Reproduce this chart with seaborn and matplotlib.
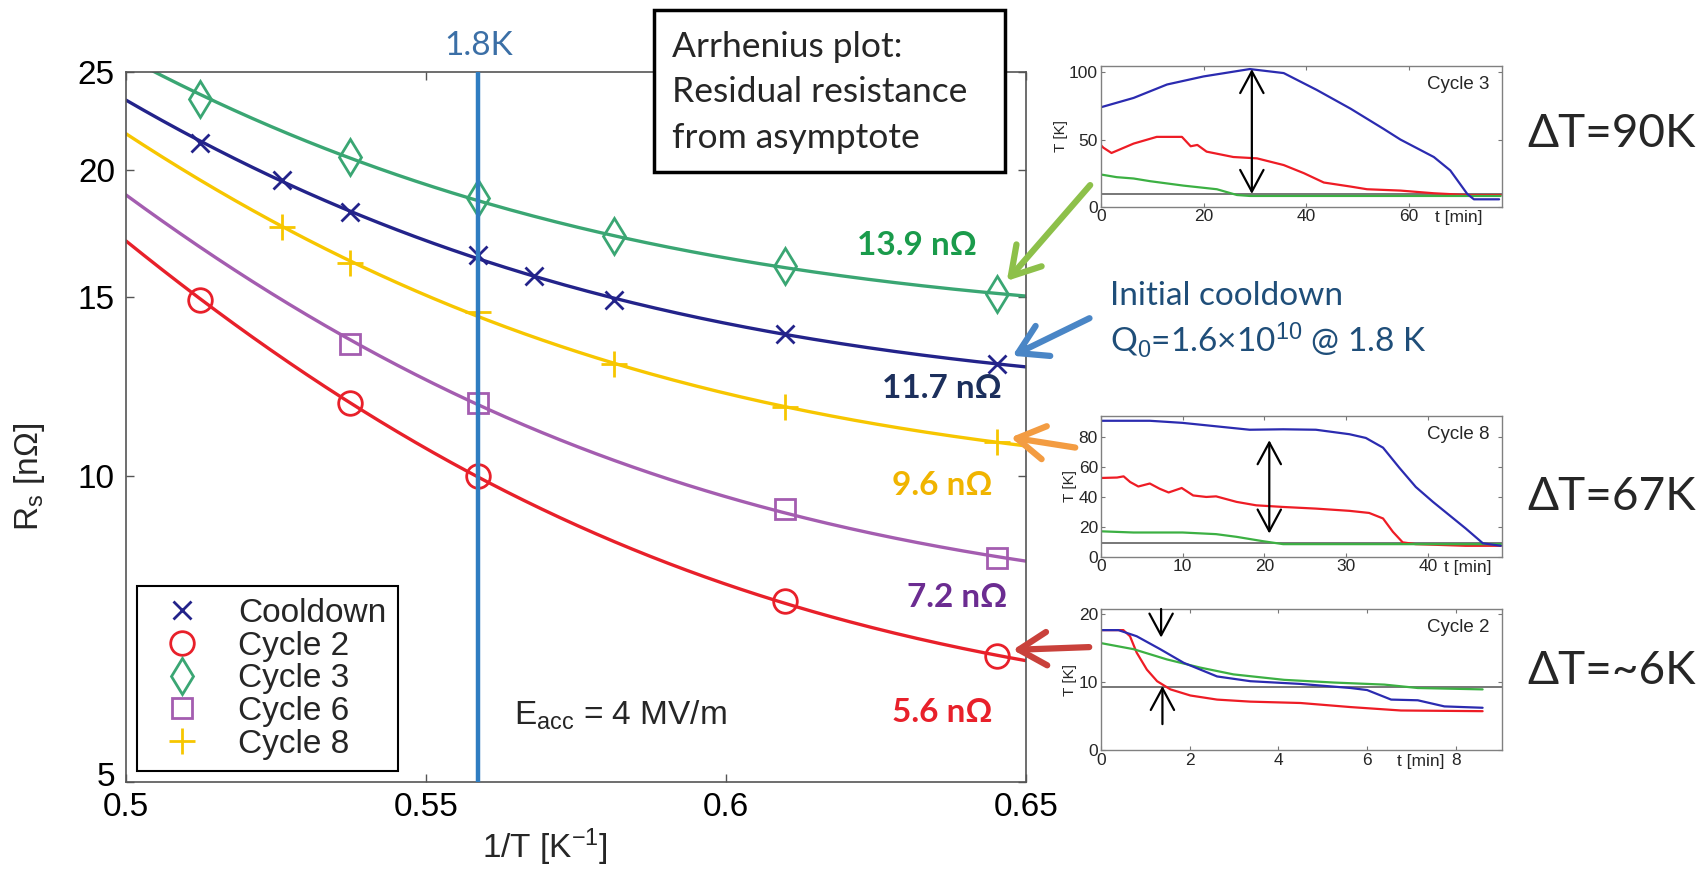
import numpy as np
import matplotlib
matplotlib.use("Agg")
import matplotlib.pyplot as plt
import matplotlib.transforms as mtransforms
import seaborn as sns
from matplotlib.patches import FancyArrowPatch, Rectangle
from matplotlib.ticker import NullLocator

W, H = 1708, 873

# ---- main Arrhenius plot: 1/T [1/K] vs Rs [nOhm] ----
cool_x = [0.5124, 0.5260, 0.5373, 0.5586, 0.5680, 0.5813, 0.6099, 0.6451]
cool_r = [21.3, 19.55, 18.2, 16.5, 15.75, 14.9, 13.8, 12.9]
c2_x = [0.5124, 0.5373, 0.5586, 0.6099, 0.6451]
c2_r = [14.9, 11.8, 10.0, 7.53, 6.65]
c3_x = [0.5124, 0.5373, 0.5586, 0.5813, 0.6099, 0.6451]
c3_r = [23.5, 20.6, 18.8, 17.25, 16.1, 15.1]
c6_x = [0.5373, 0.5586, 0.6099, 0.6451]
c6_r = [13.5, 11.8, 9.29, 8.3]
c8_x = [0.5260, 0.5373, 0.5586, 0.5813, 0.6099, 0.6451]
c8_r = [17.6, 16.2, 14.5, 12.9, 11.7, 10.8]
series_names = ["Cooldown", "Cycle 2", "Cycle 3", "Cycle 6", "Cycle 8"]
residuals = ["11.7", "5.6", "13.9", "7.2", "9.6"]   # nOhm, from asymptote
x_18k = 0.5587

# ---- inset temperature traces, t [min] and T [K] ----
# cycle 3
i3_blue_t = [0, 6.4, 12.9, 20, 29, 35.6, 42, 48.6, 55, 58.3, 64.8, 68, 71.3, 72.6, 77.5]
i3_blue_T = [74, 81, 91, 97, 102.5, 99.5, 87, 73, 58, 50, 37, 27, 9.5, 5.5, 5.5]
i3_red_t = [0, 0.5, 2.1, 6.4, 10.9, 15.8, 17.5, 18.8, 20.6, 25.8, 30.4, 35.6, 39.5, 43.4,
            48.6, 51.8, 58.3, 64.8, 71.3, 77.8]
i3_red_T = [46, 44, 40, 47, 52, 52, 45, 46, 41, 37, 36, 31, 25, 18, 15, 13, 12, 10, 8.7, 8.7]
i3_green_t = [0, 3.1, 6.4, 9.6, 16.1, 22.6, 26.5, 29, 77.8]
i3_green_T = [24, 22, 21, 19, 15.7, 13, 8.7, 8, 8]
# cycle 8
i8_blue_t = [0, 6, 10, 14.1, 18.2, 22.3, 26.3, 30.4, 32.4, 34.5, 36.5, 38.5, 40.6, 42.6,
             44.6, 46.7, 48.9]
i8_blue_T = [91, 91, 89.6, 87.3, 85, 85.3, 85, 82, 79.5, 73, 59.5, 46.7, 36.7, 27.8, 18.9, 9, 7.3]
i8_red_t = [0, 2, 2.8, 3.6, 4.6, 6, 7.2, 8.3, 9.9, 11.3, 12.9, 14.1, 16.6, 19, 22.3, 26.3,
            30.4, 32.8, 34.5, 35.7, 36.9, 38.5, 44.6, 48.9]
i8_red_T = [52.7, 53, 53.8, 50, 47, 49, 45.5, 43, 46, 41, 40, 40.4, 36.7, 34.4, 33.3, 32.2,
            30.7, 29.3, 25.6, 16.7, 9.6, 8.4, 7.3, 7.3]
i8_green_t = [0, 4, 10, 14.1, 16.6, 19.8, 22.3, 48.9]
i8_green_T = [17, 16.2, 16.2, 15.1, 13.3, 10.4, 8.4, 8.4]
# cycle 2
i2_red_t = [0, 0.51, 0.66, 0.81, 1.04, 1.27, 1.57, 2.02, 2.62, 3.37, 4.5, 5.63, 6.76, 8.6]
i2_red_T = [17.6, 17.6, 16.7, 14.3, 11.8, 10.1, 8.9, 8.0, 7.4, 7.1, 6.9, 6.3, 5.8, 5.7]
i2_blue_t = [0, 0.4, 0.81, 1.34, 1.87, 2.62, 3.37, 4.5, 5.63, 6.0, 6.54, 7.14, 7.74, 8.6]
i2_blue_T = [17.6, 17.6, 16.7, 14.8, 12.8, 10.8, 10.1, 9.7, 9.1, 8.8, 7.4, 7.3, 6.4, 6.2]
i2_green_t = [0, 0.74, 1.49, 2.24, 2.99, 4.13, 5.26, 6.39, 7.14, 8.6]
i2_green_T = [15.7, 14.8, 13.3, 12.1, 11.1, 10.3, 9.9, 9.6, 9.1, 8.9]
t_c = 9.2
delta_T = ["ΔT=90K", "ΔT=67K", "ΔT=~6K"]

sns.set_theme(style="ticks")
plt.rcParams["font.family"] = ["Liberation Sans", "DejaVu Sans"]
plt.rcParams["mathtext.fontset"] = "custom"
plt.rcParams["mathtext.rm"] = "Liberation Sans"
plt.rcParams["mathtext.it"] = "Liberation Sans:italic"
plt.rcParams["mathtext.bf"] = "Liberation Sans:bold"
plt.rcParams["mathtext.default"] = "rm"
LATO = ["Lato", "DejaVu Sans"]


def fx(px):
    return px / W


def fy(py):
    return 1 - py / H


def arrhenius_fit(xs, rs, r0):
    # Rs = R0 + A*exp(-k/T), fitted on log(Rs - R0)
    xs = np.asarray(xs)
    rs = np.asarray(rs)
    k, b = np.polyfit(xs, np.log(rs - r0), 1)
    grid = np.linspace(0.5, 0.65, 200)
    return grid, r0 + np.exp(b + k * grid)


fig = plt.figure(figsize=(W / 100, H / 100), dpi=100)
fig.patch.set_facecolor("white")

# main axes
ax = fig.add_axes([fx(126), fy(782), 900 / W, 710 / H])

colors = ["#23238a", "#e8202a", "#3aa673", "#a45db0", "#f7c600"]
markers = ["x", "o", "d", "s", "+"]
msizes = [13, 17, 18, 14, 19]
xs_all = [cool_x, c2_x, c3_x, c6_x, c8_x]
rs_all = [cool_r, c2_r, c3_r, c6_r, c8_r]

for name, xs, rs, r0, mk, ms, col in zip(series_names, xs_all, rs_all, residuals,
                                         markers, msizes, colors):
    gx, gy = arrhenius_fit(xs, rs, float(r0))
    sns.lineplot(x=gx, y=gy, ax=ax, color=col, lw=2.4, sort=False, estimator=None, zorder=2)
    sns.lineplot(x=xs, y=rs, ax=ax, marker=mk, markersize=ms, mfc="none", mec=col,
                 mew=2, linestyle="none", color=col, label=name, sort=False,
                 estimator=None, zorder=3)

ax.axvline(x_18k, color="#2f7dc1", lw=3.2, zorder=4)
ax.set_yscale("log")
ax.set_xlim(0.5, 0.65)
ax.set_ylim(5, 25)
ax.set_yticks([5, 10, 15, 20, 25])
ax.set_yticklabels(["5", "10", "15", "20", "25"])
ax.yaxis.set_minor_locator(NullLocator())
ax.set_xticks([0.5, 0.55, 0.6, 0.65])
ax.set_xticklabels(["0.5", "0.55", "0.6", "0.65"])
ax.tick_params(direction="in", top=True, right=True, length=6, width=1,
               color="#555555", labelcolor="black", labelsize=24)
ax.tick_params(axis="y", pad=8)
ax.tick_params(axis="x", pad=7)
for sp in ax.spines.values():
    sp.set_visible(True)
    sp.set_color("#555555")
    sp.set_linewidth(1.2)

# lift the bottom "5" a little so it clears "0.5"
lbl5 = ax.get_yticklabels()[0]
lbl5.set_transform(lbl5.get_transform()
                   + mtransforms.ScaledTranslation(0, 8 / 100, fig.dpi_scale_trans))

ax.set_xlabel("1/T [K$^{-1}$]", fontsize=24)
ax.xaxis.set_label_coords(0.466, -0.062)
ax.set_ylabel("R$_s$ [nΩ]", fontsize=24)
ax.yaxis.set_label_coords(-0.088, 0.43)

leg = ax.legend(loc="lower left", bbox_to_anchor=(0.012, 0.015), borderaxespad=0,
                fontsize=24, frameon=True, fancybox=False, edgecolor="black",
                handlelength=2.0, handletextpad=0.7, labelspacing=0.05, borderpad=0.35)
leg.get_frame().set_linewidth(1.5)
leg.get_frame().set_alpha(1)

# residual resistance labels
lab_pos = [(0.6460, 11.94), (0.6445, 5.73), (0.6418, 16.51), (0.6468, 7.43), (0.6445, 9.58)]
lab_cols = ["#1c2f5c", "#e8202a", "#1a9b4b", "#6b2c91", "#f0b400"]
for val, (px, py), c in zip(residuals, lab_pos, lab_cols):
    ax.text(px, py, f"{val} nΩ", color=c, fontsize=24, fontweight="bold",
            family=LATO, ha="right", va="baseline", zorder=6)

ax.text(0.5646, 5.70, "E$_{acc}$ = 4 MV/m", fontsize=24, ha="left", va="baseline")

# 1.8K label
fig.text(fx(479), fy(55), "1.8K", color="#3b6fa6", fontsize=24, family=LATO,
         ha="center", va="baseline")

# Arrhenius box
fig.add_artist(Rectangle((fx(654), fy(172)), 351 / W, 162 / H, transform=fig.transFigure,
                         fc="white", ec="black", lw=2.5, zorder=5))
for line, yb in zip(["Arrhenius plot:", "Residual resistance", "from asymptote"], [57, 102, 148]):
    fig.text(fx(672), fy(yb), line, fontsize=25.5, family=LATO, ha="left",
             va="baseline", zorder=6)

# inset axes
inset_specs = [
    (fy(206.7), (0, 78), (0, 105), [0, 20, 40, 60], [0, 50, 100], "Cycle 3", 69.7,
     (i3_blue_t, i3_blue_T), (i3_red_t, i3_red_T), (i3_green_t, i3_green_T)),
    (fy(556.7), (0, 49), (0, 94.4), [0, 10, 20, 30, 40], [0, 20, 40, 60, 80], "Cycle 8", 44.8,
     (i8_blue_t, i8_blue_T), (i8_red_t, i8_red_T), (i8_green_t, i8_green_T)),
    (fy(750), (0, 9.03), (0, 20.7), [0, 2, 4, 6, 8], [0, 10, 20], "Cycle 2", 7.2,
     (i2_blue_t, i2_blue_T), (i2_red_t, i2_red_T), (i2_green_t, i2_green_T)),
]
insets = []
for bottom, xl, yl, xt, yt, title, tlx, blue, red, green in inset_specs:
    a = fig.add_axes([fx(1100.7), bottom, 401 / W, 141 / H])
    a.axhline(t_c, color="#606060", lw=1.2, zorder=1)
    for (tt, TT), c in [(red, "#ee1c25"), (green, "#3cb043"), (blue, "#2b2bb0")]:
        sns.lineplot(x=tt, y=TT, ax=a, color=c, lw=1.6, sort=False, estimator=None, zorder=2)
    a.set_xlim(*xl)
    a.set_ylim(*yl)
    a.set_xticks(xt)
    a.set_yticks(yt)
    a.tick_params(direction="in", top=True, right=True, length=3, width=0.8,
                  color="#777777", labelsize=12.5, pad=2)
    for sp in a.spines.values():
        sp.set_visible(True)
        sp.set_color("#808080")
        sp.set_linewidth(1.0)
    a.set_ylabel("T [K]", fontsize=11, labelpad=1)
    a.set_xlabel("")
    a.text(0.97, 0.87, title, transform=a.transAxes, ha="right", va="center", fontsize=13.5)
    a.text(tlx, -0.025, "t [min]", transform=a.get_xaxis_transform(), ha="center",
           va="top", fontsize=12.5)
    insets.append(a)

dbl = dict(arrowstyle="<->,head_length=1.3,head_width=0.7", lw=1.6, color="black",
           shrinkA=0, shrinkB=0)
sgl = dict(arrowstyle="->,head_length=1.3,head_width=0.7", lw=1.6, color="black",
           shrinkA=0, shrinkB=0)
insets[0].annotate("", xy=(29.4, 102.5), xytext=(29.4, 9.5), arrowprops=dbl)
insets[1].annotate("", xy=(20.6, 78), xytext=(20.6, 15.5), arrowprops=dbl)
insets[2].annotate("", xy=(1.36, 16.5), xytext=(1.36, 20.7), arrowprops=sgl,
                   annotation_clip=False)
insets[2].annotate("", xy=(1.39, 9.4), xytext=(1.39, 3.8), arrowprops=sgl)

# colored pointer arrows
for (x0, y0), (x1, y1), c in [((1092, 183), (1005, 283), "#8dc04a"),
                              ((1092, 317), (1010, 357), "#4a86c6"),
                              ((1078, 448), (1008, 437), "#f39c42"),
                              ((1092, 647), (1010, 650), "#c9413b")]:
    fig.add_artist(FancyArrowPatch((fx(x0), fy(y0)), (fx(x1), fy(y1)),
                                   transform=fig.transFigure,
                                   arrowstyle="->,head_length=1.0,head_width=0.6",
                                   mutation_scale=20, lw=4.5, color=c, zorder=7))

fig.text(fx(1110), fy(305), "Initial cooldown", color="#1f4e79", fontsize=24,
         family=LATO, ha="left", va="baseline")
fig.text(fx(1110), fy(352), "Q$_0$=1.6×10$^{10}$ @ 1.8 K", color="#1f4e79", fontsize=24,
         family=LATO, ha="left", va="baseline")

for txt, yb in zip(delta_T, [147, 510, 684]):
    fig.text(fx(1527), fy(yb), txt, fontsize=33, family=LATO, ha="left", va="baseline")

fig.savefig("out.png", dpi=100, facecolor="white")
